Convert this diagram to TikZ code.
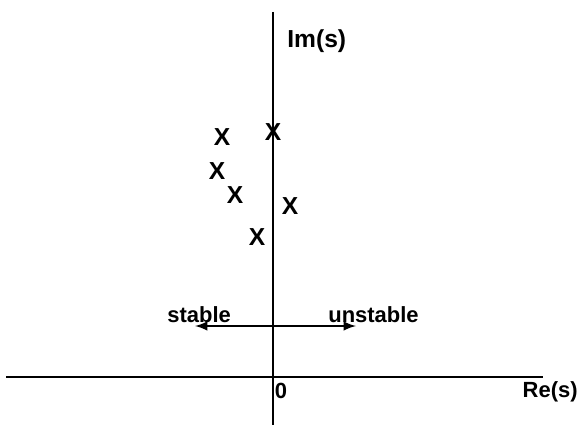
\documentclass[tikz,border=0pt]{standalone}
\usepackage{fontspec}
\setmainfont{Liberation Sans}
\usepackage{tikz}
\usetikzlibrary{arrows, positioning}

\begin{document}
\begin{tikzpicture}[>=latex, x=0.02cm, y=-0.02cm,
					axis/.style={line width=1.4pt},
					pole/.style={inner sep=0pt, font=\fontsize{14}{16}\selectfont\bfseries},
					label/.style={inner sep=0pt, font=\fontsize{12.5}{14}\selectfont\bfseries},
					arrow/.style={->, line width=1.4pt}
				]
					\useasboundingbox (0,0) rectangle (580,425);

					% Axes
					\coordinate (xl) at (6,377);
					\coordinate (xr) at (543,377);
					\coordinate (yt) at (273,12);
					\coordinate (yb) at (273,425);
					\draw[axis] (xl) -- (xr);
					\draw[axis] (yt) -- (yb);

					% Labels
					\node[label, anchor=west, font=\fontsize{14}{16}\selectfont\bfseries] (im) at (287,41) {Im(s)};
					\node[label, anchor=east] (re) at (578,392) {Re(s)};
					\node[label] (zero) at (281,391) {0};

					% Poles
					\node[pole] (p1) at (222,137) {X};
					\node[pole] (p2) at (273,132) {X};
					\node[pole] (p3) at (217,171) {X};
					\node[pole] (p4) at (235,195) {X};
					\node[pole] (p5) at (290,206) {X};
					\node[pole] (p6) at (257,237) {X};

					% Stability arrows
					\coordinate (mid) at (273,326);
					\coordinate (sl) at (195,326);
					\coordinate (ur) at (356,326);
					\draw[arrow] (mid) -- (sl);
					\draw[arrow] (mid) -- (ur);
					\node[label, anchor=west] (stable) at (167,315) {stable};
					\node[label, anchor=west] (unstable) at (328,315) {unstable};
				\end{tikzpicture}
\end{document}
